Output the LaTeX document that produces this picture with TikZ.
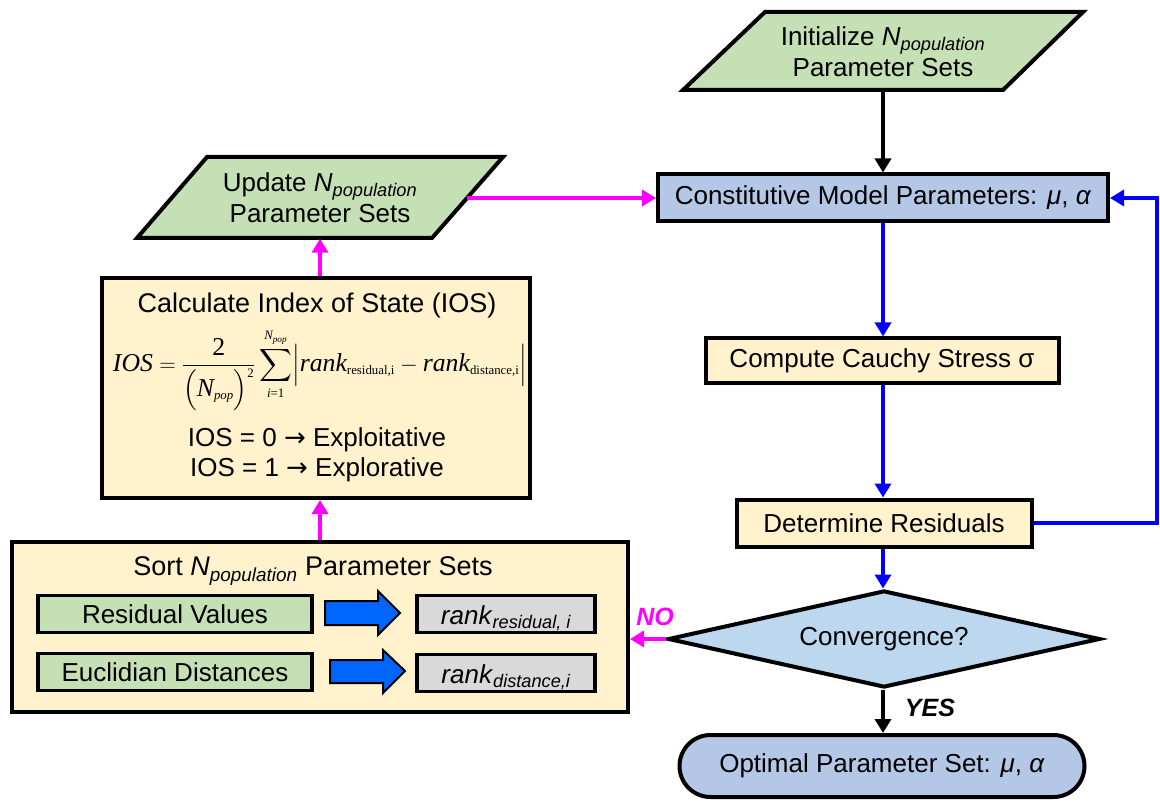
\documentclass[tikz,border=0pt]{standalone}
\usepackage{amsmath}
\usepackage{fontspec}
\setmainfont{Liberation Sans}
\newfontfamily\tnr{Liberation Serif}
\newfontfamily\symfont{DejaVu Sans}
\usetikzlibrary{arrows.meta,shapes.geometric,calc}

\definecolor{boxgreen}{RGB}{197,224,180}
\definecolor{boxblue}{RGB}{180,199,231}
\definecolor{boxyellow}{RGB}{255,242,204}
\definecolor{diablue}{RGB}{189,215,238}
\definecolor{boxgray}{RGB}{217,217,217}
\definecolor{flowblue}{RGB}{0,0,255}
\definecolor{flowmag}{RGB}{255,0,255}
\definecolor{blockblue}{RGB}{0,102,255}

\newcommand\Npop{\textit{N}\textsubscript{\itshape population}}
\newcommand\mv[1]{\text{\tnr\itshape #1}}
\newcommand\mr[1]{\text{\tnr #1}}
\newcommand\fsub[1]{\text{\fontsize{14}{16}\selectfont\tnr #1}}
\newcommand\fsubs[1]{\text{\fontsize{10}{12}\selectfont\tnr #1}}
\newcommand\goesto{{\symfont →}}

\begin{document}
\begin{tikzpicture}[x=1pt,y=-1pt,
  every node/.style={font=\fontsize{26}{31}\selectfont, inner sep=0pt, align=center},
  box/.style={draw=black, line width=4pt},
  smallbox/.style={draw=black, line width=3.5pt},
  rankbox/.style={smallbox, fill=boxgray, minimum width=178, minimum height=37,
    text height=22pt, text depth=2pt},
  para/.style={draw=black, line width=4pt, line join=miter},
  link/.style={line width=4.5pt, -{Triangle[length=14pt,width=16pt]}},
  blockarrow/.style={draw=black, line width=2pt, fill=blockblue, line join=miter},
  answer/.style={font=\fontsize{25}{30}\selectfont\bfseries\itshape}]
\useasboundingbox (0,0) rectangle (1160,802);

% ---- input / update parallelograms ----
\path[para, fill=boxgreen] (765,12) -- (1083,12) -- (1003,90) -- (683,90) -- cycle;
\node[minimum width=318, minimum height=78] (init) at (883,52)
  {Initialize \Npop\\Parameter Sets};

\path[para, fill=boxgreen] (207,157) -- (503,157) -- (432,238) -- (137,238) -- cycle;
\node[minimum width=294, minimum height=81] (upd) at (320,198)
  {Update \Npop\\Parameter Sets};

% ---- main column ----
\node[box, fill=boxblue, minimum width=450, minimum height=47] (cmp) at (883,198)
  {Constitutive Model Parameters: \textit{μ}, \textit{α}};
\node[box, fill=boxyellow, minimum width=353, minimum height=45] (cauchy) at (882,361)
  {Compute Cauchy Stress σ};
\node[box, fill=boxyellow, minimum width=295, minimum height=47] (resid) at (884,523)
  {Determine Residuals};
\node[box, fill=diablue, shape=diamond, shape aspect=4.45, minimum width=432, minimum height=97] (conv) at (884,639)
  {Convergence?};
\node[box, fill=boxblue, rounded corners=31pt, minimum width=405, minimum height=62] (opt) at (882,766)
  {Optimal Parameter Set: \textit{μ}, \textit{α}};

% ---- index of state ----
\node[box, fill=boxyellow, minimum width=428, minimum height=220] (ios) at (316,388) {};
\node[font=\fontsize{27}{32}\selectfont] (iostitle) at (317,306) {Calculate Index of State (IOS)};
\node[font=\fontsize{28}{34}\selectfont\tnr] (iosformula) at (320,370)
  {\resizebox{414pt}{!}{$\displaystyle \mv{IOS} = \frac{\mr{2}}{\Bigl(\mv{N}_{\fsub{\itshape pop}}\Bigr)^{\fsub{2}}}
    \sum_{\fsub{\itshape i\/\upshape =1}}^{\fsub{\itshape N}_{\fsubs{\itshape pop}}}
    \Bigl|\mv{rank}_{\fsub{residual,i}} - \mv{rank}_{\fsub{distance,i}}\Bigr|$}};
\node[font=\fontsize{26}{30}\selectfont] (iosrule) at (317,455)
  {IOS = 0 \goesto\ Exploitative\\IOS = 1 \goesto\ Explorative};

% ---- sorting ----
\node[box, fill=boxyellow, minimum width=616, minimum height=170] (sort) at (320,627) {};
\node[font=\fontsize{27}{32}\selectfont] (sorttitle) at (313,571) {Sort \Npop\ Parameter Sets};
\node[smallbox, fill=boxgreen, minimum width=274, minimum height=37] (resv) at (175,614) {Residual Values};
\node[smallbox, fill=boxgreen, minimum width=274, minimum height=37] (eucd) at (175,672) {Euclidian Distances};
\node[rankbox] (rres) at (506,614)
  {\textit{rank}\textsubscript{\itshape residual, i}};
\node[rankbox] (rdis) at (506,673)
  {\textit{rank}\textsubscript{\itshape distance,i}};
\path[blockarrow] (325,601) -- (378,601) -- (378,591) -- (400,613) -- (378,635) -- (378,625) -- (325,625) -- cycle;
\path[blockarrow] (330,660) -- (383,660) -- (383,650) -- (405,671) -- (383,693) -- (383,683) -- (330,683) -- cycle;

% ---- connectors ----
\draw[link] (init.south) -- (init.south |- cmp.north);
\draw[link, flowmag] (upd.east) -- (upd.east -| cmp.west);
\draw[link, flowmag] (ios.north -| upd.south) -- (upd.south);
\draw[link, flowmag] (sort.north -| upd.south) -- (ios.south -| upd.south);
\draw[link, flowblue] (cmp.south) -- (cmp.south |- cauchy.north);
\draw[link, flowblue] (cauchy.south -| cmp.south) -- (cmp.south |- resid.north);
\coordinate (loopx) at (1157,360);
\draw[link, flowblue] (resid.east) -- (resid.east -| loopx) -- (cmp.east -| loopx) -- (cmp.east);
\draw[link, flowblue] (resid.south -| cmp.south) -- (cmp.south |- conv.north);
\draw[link, flowmag] (conv.west) -- (conv.west -| sort.east);
\draw[link] (conv.south -| cmp.south) -- (cmp.south |- opt.north);

\node[answer, text=flowmag] (nolabel) at (655,617) {NO};
\node[answer] (yeslabel) at (930,708) {YES};
\end{tikzpicture}
\end{document}
